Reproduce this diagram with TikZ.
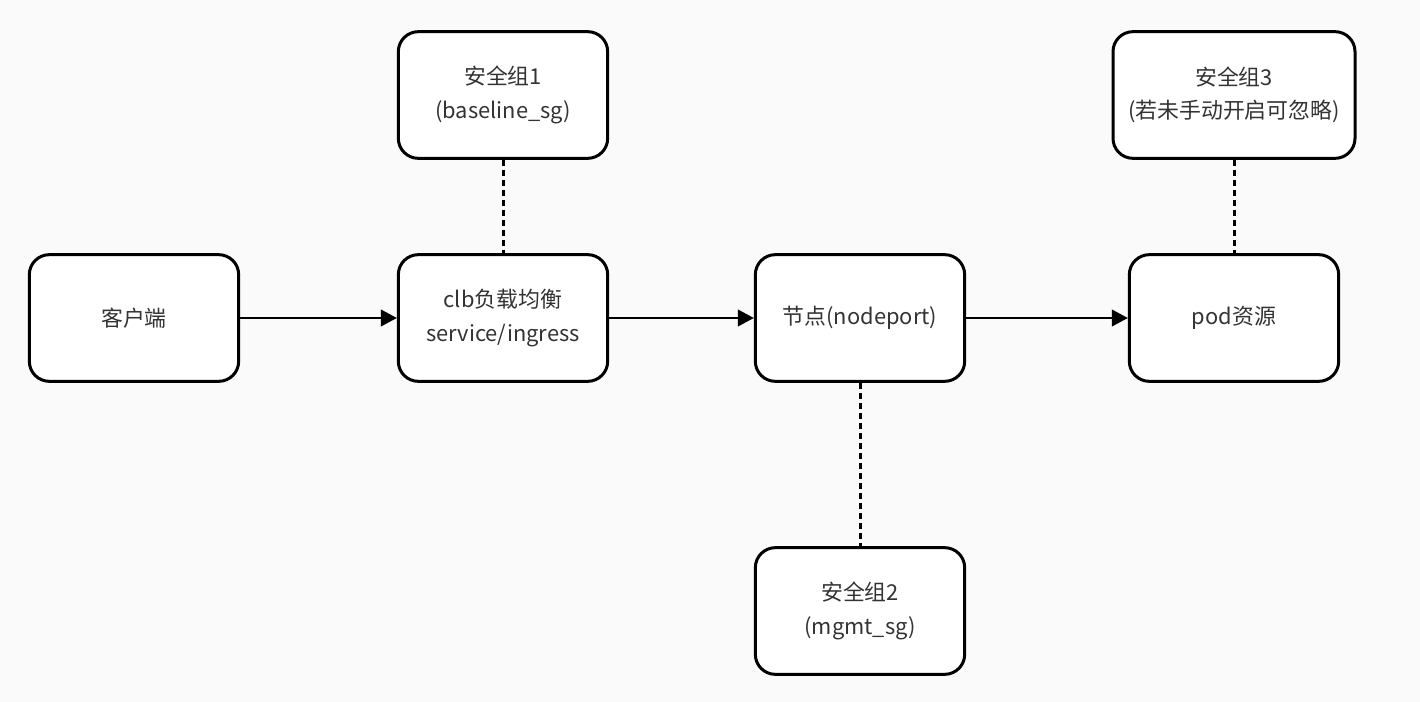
\documentclass[tikz,border=0pt]{standalone}
\usepackage{fontspec}
\setmainfont{Noto Sans CJK SC}
\usetikzlibrary{arrows.meta}
\definecolor{bgcol}{RGB}{250,250,250}
\definecolor{txtcol}{RGB}{51,51,51}
\begin{document}
\begin{tikzpicture}[x=0.75pt,y=-0.75pt,
    box/.style={draw=black,fill=white,line width=2.25pt,rounded corners=15pt,
      minimum width=157pt,minimum height=95pt,align=center,text=txtcol,
      font=\fontsize{16.4pt}{25pt}\selectfont},
    flow/.style={line width=1.5pt,-{Triangle[length=12pt,width=12.5pt]}},
    sgline/.style={line width=2.25pt,dash pattern=on 4.5pt off 3pt}]
      \fill[bgcol] (0,0) rectangle (1420,702);
      \useasboundingbox (0,0) rectangle (1420,702);
      \draw
        (134,318) node[box] (client){客户端}
        (503,318) node[box] (clb){clb负载均衡\\service/ingress}
        (860,318) node[box] (nodeport){节点(nodeport)}
        (1234,318) node[box] (pod){pod资源}
        (503,95) node[box] (sg1){安全组1\\(baseline\_sg)}
        (860,611) node[box] (sg2){安全组2\\(mgmt\_sg)}
        (1234,95) node[box,minimum width=181.5pt] (sg3){安全组3\\(若未手动开启可忽略)};
      \begin{scope}[flow]
        \draw (client) to (clb);
        \draw (clb) to (nodeport);
        \draw (nodeport) to (pod);
      \end{scope}
      \begin{scope}[sgline]
        \draw (sg1) to (clb);
        \draw (nodeport) to (sg2);
        \draw (sg3) to (pod);
      \end{scope}
    \end{tikzpicture}
\end{document}
